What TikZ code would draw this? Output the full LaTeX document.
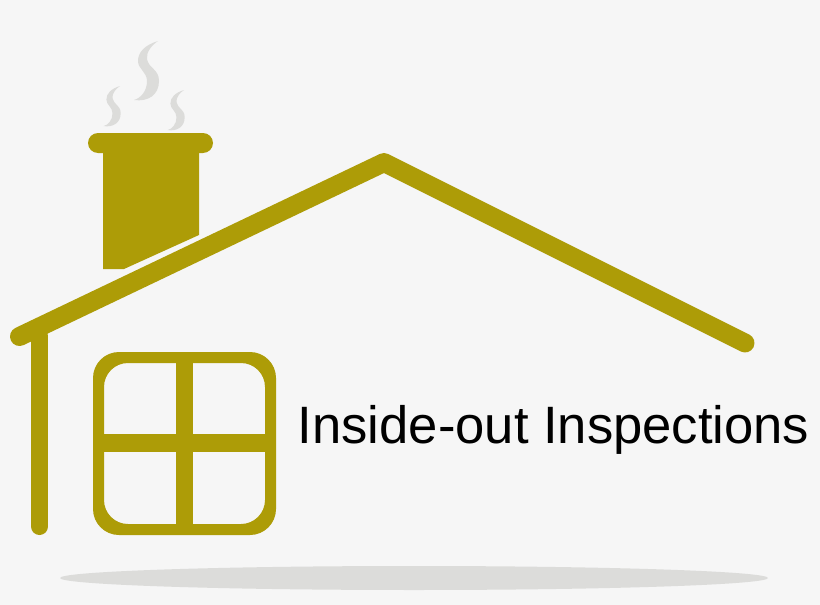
\documentclass[tikz,border=0pt]{standalone}
\usepackage{fontspec}
\setmainfont{Liberation Sans}
\definecolor{houseolive}{HTML}{AD9C07}
\definecolor{paper}{HTML}{F6F6F6}
\definecolor{smokegrey}{HTML}{DCDCDA}
\tikzset{
  beam/.style={draw=houseolive,line cap=round,line join=round},
  solid part/.style={fill=houseolive},
  smokepuff/.pic={
    \fill[smokegrey] (0,0) .. controls (-13,4) and (-20,11) .. (-20,20)
      .. controls (-20,28) and (-11,31) .. (-11,40)
      .. controls (-11,50) and (-17,57) .. (-24,59)
      .. controls (-10,61) and (1,54) .. (1,40)
      .. controls (1,28) and (-9,28) .. (-11,18)
      .. controls (-12,11) and (-6,4) .. (0,0);
  }
}
\begin{document}
\begin{tikzpicture}[x=1pt,y=-1pt]
  \fill[paper] (0,0) rectangle (820,605);
  \useasboundingbox (0,0) rectangle (820,605);
  \fill[smokegrey] (414,578) ellipse [x radius=354,y radius=12];
  \coordinate (eaveleft) at (19.5,336.5);
  \coordinate (apex) at (384,162.5);
  \coordinate (eaveright) at (745,343);
  \coordinate (walltop) at (39.5,336);
  \coordinate (wallfoot) at (39.5,526.5);
  \draw[beam,line width=19] (eaveleft) -- (apex) -- (eaveright);
  \draw[beam,line width=17] (walltop) -- (wallfoot);
  % chimney
  \fill[solid part] (103,150) -- (199,150) -- (199,235) -- (124,269) -- (103,269) -- cycle;
  \fill[solid part,rounded corners=10] (88,133) rectangle (213,153);
  \pic at (158,41) {smokepuff};
  \pic[scale=.68] at (120,86) {smokepuff};
  \pic[scale=.68] at (184,90) {smokepuff};
  % window
  \fill[solid part,even odd rule,rounded corners=26] (93,352) rectangle (276,535)
    [rounded corners=24] (104,363) rectangle (265,524);
  \fill[solid part] (176,360) rectangle (193,527);
  \fill[solid part] (101,434) rectangle (268,452);
  \node[anchor=base west,inner sep=0pt,font=\fontsize{52.6}{60}\selectfont] (title) at (297.5,443) {Inside-out Inspections};
\end{tikzpicture}
\end{document}
